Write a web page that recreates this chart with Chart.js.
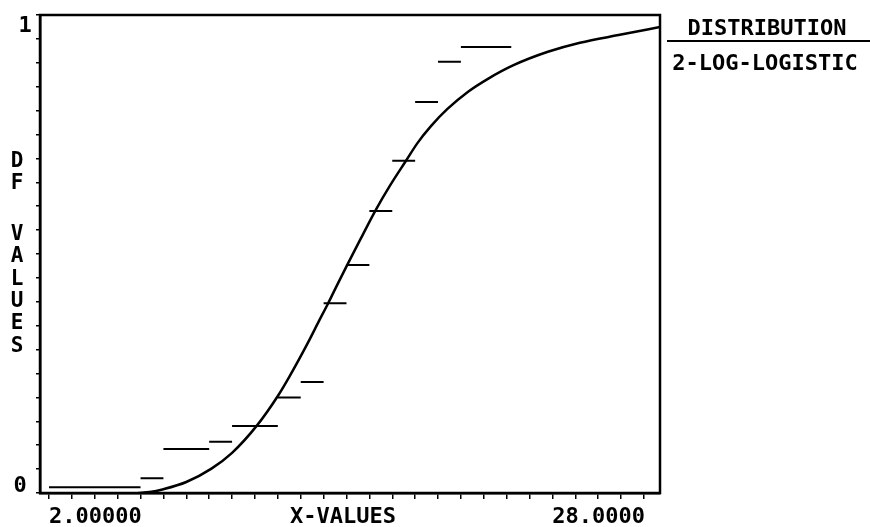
<!DOCTYPE html>
<html>
<head>
<meta charset="utf-8">
<script src="https://cdn.jsdelivr.net/npm/chart.js@4/dist/chart.umd.min.js"></script>
<style>
    body { margin: 0; background: #fff; }
    #wrap { width: 870px; height: 527px; }
</style>
</head>
<body>
<div id="wrap"><canvas id="cdfChart" width="870" height="527"></canvas></div>
<script>
// fitted 2-parameter log-logistic curve
var curveX = [5.9, 6.4, 7.0, 8.0, 9.1, 10.0, 11.1, 12.0, 12.5, 13.3, 13.8, 14.2, 14.6, 15.0, 15.6, 16.3, 16.9, 17.6, 18.1, 18.7, 19.4, 20.3, 21.2, 22.3, 23.8, 25.2, 27.0, 28.7];
var curveY = [0.0, 0.002, 0.008, 0.023, 0.051, 0.084, 0.142, 0.203, 0.243, 0.313, 0.36, 0.397, 0.436, 0.474, 0.53, 0.594, 0.643, 0.695, 0.732, 0.768, 0.803, 0.839, 0.867, 0.895, 0.923, 0.942, 0.959, 0.975];

// empirical steps
var stepStart = [2, 6, 7, 9, 10, 12, 13, 14, 15, 16, 17, 18, 19, 20];
var stepEnd = [6, 7, 9, 10, 12, 13, 14, 15, 16, 17, 18, 19, 20, 22.2];
var stepLevel = [0.012, 0.031, 0.092, 0.107, 0.14, 0.2, 0.232, 0.397, 0.477, 0.59, 0.695, 0.818, 0.902, 0.933];

// labels
var xTickValues = [2, 28];
var xTickLabels = ['2.00000', '28.0000'];
var yTickValues = [0, 1];
var yTickLabels = ['0', '1'];
var xTitle = 'X-VALUES';
var yTitleWords = ['DF', 'VALUES'];
var legendTitle = 'DISTRIBUTION';
var legendItems = ['2-LOG-LOGISTIC'];

var FONT = 'bold 22px "DejaVu Sans Mono"';

var curveData = [];
for (var i = 0; i < curveX.length; i++) {
    curveData.push({x: curveX[i], y: curveY[i]});
}

// one dataset, broken with nulls between the steps
var stepData = [];
for (var j = 0; j < stepStart.length; j++) {
    stepData.push({x: stepStart[j], y: stepLevel[j]});
    stepData.push({x: stepEnd[j], y: stepLevel[j]});
    stepData.push({x: stepEnd[j], y: null});
}

//- TEXT + FRAME -
//----------------
var textPlugin = {
    id: 'oldPlotText',
    afterDraw: function (chart) {
        var ctx = chart.ctx;
        var area = chart.chartArea;
        var xs = chart.scales.x;
        var ys = chart.scales.y;
        ctx.save();

        // frame
        ctx.strokeStyle = '#000';
        ctx.lineWidth = 2.5;
        ctx.strokeRect(area.left, area.top, area.right - area.left, area.bottom - area.top);

        ctx.fillStyle = '#000';
        ctx.font = FONT;
        ctx.textBaseline = 'alphabetic';

        // x tick labels
        ctx.textAlign = 'left';
        ctx.fillText(xTickLabels[0], xs.getPixelForValue(xTickValues[0]), 523);
        ctx.textAlign = 'right';
        ctx.fillText(xTickLabels[1], xs.getPixelForValue(xTickValues[1]) + 1, 523);
        ctx.textAlign = 'center';
        ctx.fillText(xTitle, 343, 523);

        // y tick labels
        ctx.fillText(yTickLabels[1], 25, ys.getPixelForValue(yTickValues[1]) + 17);
        ctx.fillText(yTickLabels[0], 20, ys.getPixelForValue(yTickValues[0]) - 1);

        // stacked y title
        ctx.font = 'bold 21px "DejaVu Sans Mono"';
        var base = [167, 240];
        for (var w = 0; w < yTitleWords.length; w++) {
            var word = yTitleWords[w];
            for (var k = 0; k < word.length; k++) {
                ctx.fillText(word[k], 17, base[w] + k * 22.3);
            }
        }

        // legend box at the right
        ctx.font = FONT;
        ctx.fillText(legendTitle, 767, 35);
        ctx.lineWidth = 2;
        ctx.beginPath();
        ctx.moveTo(667, 41);
        ctx.lineTo(870, 41);
        ctx.stroke();
        for (var n = 0; n < legendItems.length; n++) {
            ctx.fillText(legendItems[n], 765, 70 + n * 24);
        }
        ctx.restore();
    }
};

var cdfCanvas = document.getElementById('cdfChart').getContext('2d');
var cdfChart = new Chart(cdfCanvas, {
    type: 'scatter',
    data: {
        datasets: [
            {
                label: 'steps',
                data: stepData,
                showLine: true,
                spanGaps: false,
                borderColor: '#000',
                borderWidth: 2,
                pointRadius: 0
            },
            {
                label: legendItems[0],
                data: curveData,
                showLine: true,
                borderColor: '#000',
                borderWidth: 2.5,
                pointRadius: 0,
                cubicInterpolationMode: 'monotone'
            }
        ]
    },
    options: {
        responsive: false,
        animation: false,
        devicePixelRatio: 1,
        layout: { padding: { left: 0, top: 15, right: 210, bottom: 0 } },
        plugins: {
            legend: { display: false },
            tooltip: { enabled: false }
        },
        scales: {
            x: {
                type: 'linear',
                min: 1.607,
                max: 28.7,
                ticks: { display: false, stepSize: 1, includeBounds: false },
                grid: { drawOnChartArea: false, drawTicks: true, tickLength: 6, color: '#000', lineWidth: 1.5 },
                border: { display: true, color: '#000', width: 2.5 },
                afterFit: function (scale) { scale.height = 34; }
            },
            y: {
                type: 'linear',
                min: 0,
                max: 1,
                ticks: { display: false, stepSize: 0.05 },
                grid: { drawOnChartArea: false, drawTicks: true, tickLength: 4, color: '#000', lineWidth: 1.5 },
                border: { display: true, color: '#000', width: 2.5 },
                afterFit: function (scale) { scale.width = 40; }
            }
        }
    },
    plugins: [textPlugin]
});
</script>
</body>
</html>
